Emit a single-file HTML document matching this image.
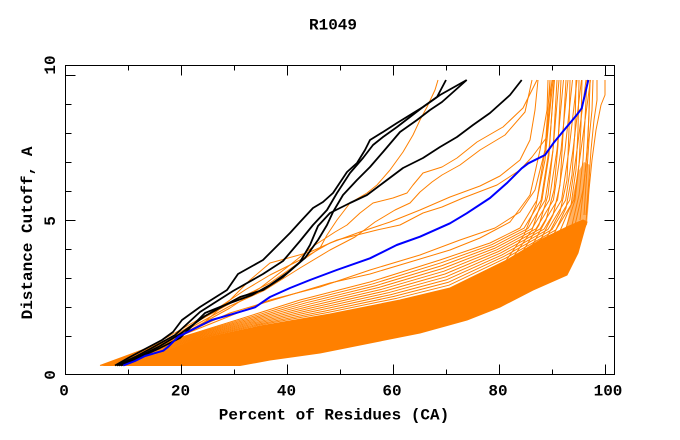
<!DOCTYPE html>
<html>
<head>
<meta charset="utf-8">
<style>
html,body{margin:0;padding:0;background:#fff;}
svg{display:block;}
text{font-family:"Liberation Mono","DejaVu Sans Mono",monospace;font-weight:bold;font-size:16px;fill:#000;}
</style>
</head>
<body>
<svg width="680" height="440" viewBox="0 0 680 440" xmlns="http://www.w3.org/2000/svg">
<rect x="0" y="0" width="680" height="440" fill="#fff"/>

<!-- Title -->
<text x="333" y="29.5" text-anchor="middle">R1049</text>

<!-- Orange series -->
<g fill="none" stroke="#ff8000" stroke-width="1" stroke-linejoin="round">
  <!-- dense band fill -->
  <polygon fill="#ff8000" stroke="#ff8000" points="104,365.5 130,359 155,355 195,340 260,326 330,314 400,300 450,288 507,260 540,240 567,227 583,220 587,222 585,228 578,253 567,275 533,290 500,307 467,320 420,333 370,343 320,353 270,360 240,365.5"/>
  <polygon fill="#ff8000" fill-opacity="0.6" stroke="none" points="566,228 572,200 578,172 584,162 590,165 589,200 587,225"/>

  <!-- sparse group -->
  <polyline points="109,365.5 154.5,354.2 195,339.3 258,325.3 327,312.6 397,298.2 449,285.2 505.3,258.3 556,229.8 573.9,200 581,150 590.5,80"/>
  <polyline points="108,365.5 154,353.4 195,338.6 256,324.6 324,311.2 394,296.4 448,282.4 503.6,256.6 552,229.6 569.8,200 577,150 586,80"/>
  <polyline points="107,365.5 153.5,352.6 195,337.9 254,323.9 321,309.8 391,294.6 447,279.6 501.9,254.9 548,229.4 565.7,200 573,150 581.5,80"/>
  <polyline points="106,365.5 153,351.8 195,337.2 252,323.2 318,308.4 388,292.8 446,276.8 500.2,253.2 544,229.2 561.6,200 569,150 577,80"/>
  <polyline points="105,365.5 152.5,351 195,336.5 250,322.5 315,307 385,291 445,274 498.5,251.5 540,229 557.5,200 565,150 572.5,80"/>
  <polyline points="104,365.5 152,350.2 195,335.8 248,321.8 312,305.6 382,289.2 444,271.2 496.8,249.8 536,228.8 553.4,200 561,150 568,80"/>
  <polyline points="103,365.5 151.5,349.4 195,335.1 246,321.1 309,304.2 379,287.4 443,268.4 495.1,248.1 532,228.6 549.3,200 557,150 563.5,80"/>
  <polyline points="102,365.5 151,348.6 195,334.4 244,320.4 306,302.8 376,285.6 442,265.6 493.4,246.4 528,228.4 545.2,200 553,150 559,80"/>
  <polyline points="101,365.5 150.5,347.8 195,333.7 242,319.7 303,301.4 373,283.8 441,262.8 491.7,244.7 524,228.2 541.1,200 549,150 554.5,80"/>
  <polyline points="100,365.5 150,347 195,333 240,319 300,300 370,282 440,260 490,243 520,228 537,200 545,150 550,80"/>

  <!-- mid lines -->
  <polyline points="106,365.5 140,352 180,336 220,320 270,300 320,287 370,270 420,255 460,240 495,228 520,212 535,190 545,150 552,80"/>
  <polyline points="108,365.5 145,350 185,333 230,313 280,298 330,283 370,274 410,262 450,250 480,238 510,222 530,195 540,150 547,110 548,80"/>

  <!-- upper lines -->
  <polyline points="112,365.5 140,352 170,338 200,320 240,298 270,283 300,262 320,248 327,235 337,220 350,203 367,193 377,185 390,170 403,152 413,135 420,120 427,107 435,90 438,80"/>
  <polyline points="114,365.5 150,350 190,330 230,308 260,288 290,265 315,245 335,232 347,225 360,213 373,203 393,198 407,193 413,185 423,173 442,167 457,158 477,142 503,127 523,108 537,80"/>
  <polyline points="116,365.5 150,349 190,328 230,306 265,290 300,268 330,250 355,237 375,222 395,210 410,203 420,192 432,182 442,175 460,165 480,150 505,135 525,112 532,80"/>
  <polyline points="110,365.5 140,354 170,342 200,326 230,300 250,280 270,263 310,252 337,240 377,230 400,225 423,213 442,207 463,198 497,185 520,170 532,157 547,137 550,103 550,80"/>
  <polyline points="112,365.5 145,350 180,330 215,310 245,290 270,275 300,260 330,243 360,232 390,222 420,210 450,197 480,186 500,176 520,160 530,140 535,110 538,80"/>

  <!-- near-vertical upper-right lines -->
  <polyline points="586,222 589,190 592,160 596,130 601,105 605,95 605,80"/>
  <polyline points="586,215 589,180 591,150 594,120 597,100 597,80"/>
  <polyline points="584,215 587,170 589,140 592,110 593,80"/>
  <polyline points="580,220 584,185 587,150 589,115 590,80"/>
  <polyline points="575,225 583,190 586,165 588,140 589,110 590,80"/>
  <polyline points="572,225 579,195 583,160 585,120 587,80"/>
  <polyline points="566,228 575,200 579,165 581,125 582,80"/>
  <polyline points="560,231 571,205 576,170 578,130 579,80"/>
  <polyline points="554,234 566,208 572,175 575,130 576,80"/>
  <polyline points="547,237 560,212 567,180 569,130 570,80"/>
  <polyline points="540,241 553,215 560,185 563,135 566,80"/>
  <polyline points="532,246 546,220 554,190 558,145 561,80"/>
  <polyline points="523,251 539,225 548,195 553,150 557,80"/>
  <polyline points="514,256 532,230 542,200 549,155 554,80"/>
  <polyline points="505,262 524,235 536,205 545,160 553,80"/>
</g>

<!-- Black series -->
<g fill="none" stroke="#000" stroke-width="1.8" stroke-linejoin="round">
  <polyline points="115,365.5 130,357 145,349 162,340 173,332 182,320 200,307 227,290 238,274 263,260 283,240 290,233 300,222 313,208 323,202 333,193 347,172 357,163 365,150 370,140 383,132 397,123 410,115 423,107 437,97 446,80"/>
  <polyline points="117,365.5 135,357 150,349 175,335 200,312 233,291 263,274 283,261 300,241 313,225 327,210 337,193 350,173 363,158 373,145 383,137 397,127 410,117 423,107 440,95 466.7,80"/>
  <polyline points="119,365.5 140,356 160,346 180,334 205,316 240,297 263,290 283,277 305,258 318,240 327,225 333,212 343,195 357,180 370,167 383,152 400,132 417,120 430,110 442,102 466.7,80"/>
  <polyline points="121,365.5 140,357 160,348 180,338 205,313 230,303 252,295 270,285 287,273 300,262 310,245 318,226 330,213 350,203 367,195 383,183 403,168 423,158 440,147 457,137 473,125 490,113 510,95 521.7,80"/>
</g>

<!-- Blue series -->
<polyline fill="none" stroke="#0000ff" stroke-width="2" stroke-linejoin="round" points="123.3,365.5 135,361 145,356 163.3,350.7 168.3,346.7 178.3,336.7 195,328.3 211.7,320 235,313.3 255,307.3 270,297 290,288 310,280 336.7,270 370,258.3 396.7,245 420,236.7 450,223.3 466.7,213.3 490,198 506.7,183.3 521.7,168.3 528.3,163.3 545,155 553.3,143.3 565,129 576.7,115 581.7,108.3 588.3,80"/>

<!-- Frame -->
<rect x="65.5" y="65.5" width="549" height="309" fill="none" stroke="#000" stroke-width="1"/>

<!-- Ticks -->
<g stroke="#000" stroke-width="1">
  <!-- bottom -->
  <line x1="128.5" y1="374.5" x2="128.5" y2="369.5"/>
  <line x1="181.5" y1="374.5" x2="181.5" y2="364.5"/>
  <line x1="234.5" y1="374.5" x2="234.5" y2="369.5"/>
  <line x1="287.5" y1="374.5" x2="287.5" y2="364.5"/>
  <line x1="340.5" y1="374.5" x2="340.5" y2="369.5"/>
  <line x1="393.5" y1="374.5" x2="393.5" y2="364.5"/>
  <line x1="446.5" y1="374.5" x2="446.5" y2="369.5"/>
  <line x1="499.5" y1="374.5" x2="499.5" y2="364.5"/>
  <line x1="552.5" y1="374.5" x2="552.5" y2="369.5"/>
  <line x1="605.5" y1="374.5" x2="605.5" y2="364.5"/>
  <!-- top -->
  <line x1="128.5" y1="65.5" x2="128.5" y2="70.5"/>
  <line x1="181.5" y1="65.5" x2="181.5" y2="75.5"/>
  <line x1="234.5" y1="65.5" x2="234.5" y2="70.5"/>
  <line x1="287.5" y1="65.5" x2="287.5" y2="75.5"/>
  <line x1="340.5" y1="65.5" x2="340.5" y2="70.5"/>
  <line x1="393.5" y1="65.5" x2="393.5" y2="75.5"/>
  <line x1="446.5" y1="65.5" x2="446.5" y2="70.5"/>
  <line x1="499.5" y1="65.5" x2="499.5" y2="75.5"/>
  <line x1="552.5" y1="65.5" x2="552.5" y2="70.5"/>
  <line x1="605.5" y1="65.5" x2="605.5" y2="75.5"/>
  <!-- left -->
  <line x1="65.5" y1="75.5" x2="75.5" y2="75.5"/>
  <line x1="65.5" y1="104.5" x2="71.5" y2="104.5"/>
  <line x1="65.5" y1="133.5" x2="71.5" y2="133.5"/>
  <line x1="65.5" y1="162.5" x2="71.5" y2="162.5"/>
  <line x1="65.5" y1="191.5" x2="71.5" y2="191.5"/>
  <line x1="65.5" y1="220.5" x2="75.5" y2="220.5"/>
  <line x1="65.5" y1="249.5" x2="71.5" y2="249.5"/>
  <line x1="65.5" y1="278.5" x2="71.5" y2="278.5"/>
  <line x1="65.5" y1="307.5" x2="71.5" y2="307.5"/>
  <line x1="65.5" y1="336.5" x2="71.5" y2="336.5"/>
  <!-- right -->
  <line x1="614.5" y1="75.5" x2="604.5" y2="75.5"/>
  <line x1="614.5" y1="104.5" x2="608.5" y2="104.5"/>
  <line x1="614.5" y1="133.5" x2="608.5" y2="133.5"/>
  <line x1="614.5" y1="162.5" x2="608.5" y2="162.5"/>
  <line x1="614.5" y1="191.5" x2="608.5" y2="191.5"/>
  <line x1="614.5" y1="220.5" x2="604.5" y2="220.5"/>
  <line x1="614.5" y1="249.5" x2="608.5" y2="249.5"/>
  <line x1="614.5" y1="278.5" x2="608.5" y2="278.5"/>
  <line x1="614.5" y1="307.5" x2="608.5" y2="307.5"/>
  <line x1="614.5" y1="336.5" x2="608.5" y2="336.5"/>
</g>

<!-- X tick labels -->
<text x="64" y="395.5" text-anchor="middle">0</text>
<text x="180.5" y="395.5" text-anchor="middle">20</text>
<text x="286.5" y="395.5" text-anchor="middle">40</text>
<text x="392" y="395.5" text-anchor="middle">60</text>
<text x="498" y="395.5" text-anchor="middle">80</text>
<text x="608" y="395.5" text-anchor="middle">100</text>

<!-- X axis title -->
<text x="334" y="419.5" text-anchor="middle">Percent of Residues (CA)</text>

<!-- Y tick labels (rotated) -->
<text transform="translate(55,65) rotate(-90)" text-anchor="middle">10</text>
<text transform="translate(55,221) rotate(-90)" text-anchor="middle">5</text>
<text transform="translate(55,375) rotate(-90)" text-anchor="middle">0</text>

<!-- Y axis title -->
<text transform="translate(32,233) rotate(-90)" text-anchor="middle">Distance Cutoff, A</text>
</svg>
</body>
</html>
